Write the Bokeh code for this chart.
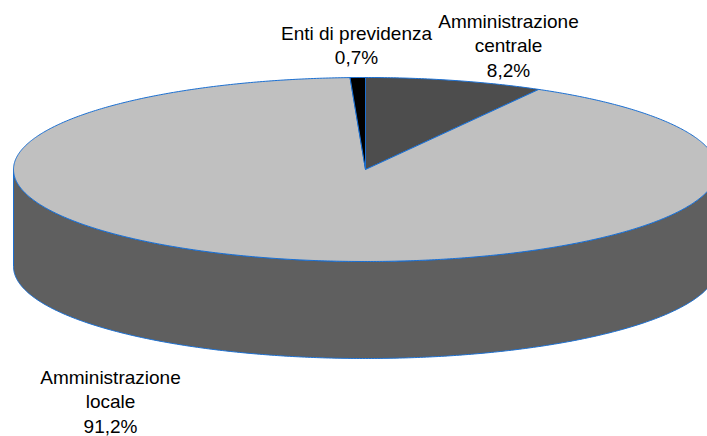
import math
from bokeh.plotting import figure
from bokeh.models import Range1d
from bokeh.core.properties import value
from bokeh.embed import file_html
from bokeh.resources import INLINE

# Chart data
categories = ["Amministrazione centrale", "Amministrazione locale", "Enti di previdenza"]
shares = [8.2, 91.2, 0.7]
top_colors = ["#4d4d4d", "#c0c0c0", "#000000"]
side_color = "#5f5f5f"
outline = "#1b6fd1"

label_lines = [["Amministrazione", "centrale", "8,2%"],
               ["Amministrazione", "locale", "91,2%"],
               ["Enti di previdenza", "0,7%"]]
label_centres = [(508, 45), (110, 401), (356, 45)]

# Pie geometry (page pixels)
CX, CY, RX, RY, DEPTH = 365, 169, 352, 92, 97
W, H = 707, 436

p = figure(width=W, height=H, output_backend="svg", toolbar_location=None,
           x_range=Range1d(0, W), y_range=Range1d(H, 0),
           min_border=0, outline_line_color=None)
p.axis.visible = False
p.grid.visible = False
p.background_fill_color = "white"
p.border_fill_color = "white"


def rim(a0, a1, dy=0.0):
    """Points on the ellipse, angle clockwise from 12 o'clock in degrees."""
    n = max(2, int(abs(a1 - a0) * 2))
    xs, ys = [], []
    for i in range(n + 1):
        a = math.radians(a0 + (a1 - a0) * i / n)
        xs.append(CX + RX * math.sin(a))
        ys.append(CY - RY * math.cos(a) + dy)
    return xs, ys


# Extruded side: visible lower half
xt, yt = rim(90, 270)
xb, yb = rim(270, 90, DEPTH)
p.patch(xt + xb, yt + yb, fill_color=side_color, line_color=outline, line_width=1)

# Top slices, running clockwise from 12 o'clock
total = sum(shares)
start = 0.0
for share, col in zip(shares, top_colors):
    end = start + 360.0 * share / total
    xs, ys = rim(start, end)
    p.patch([CX] + xs, [CY] + ys, fill_color=col, line_color=outline, line_width=1)
    start = end

# Labels
LEAD = 24.5
for lines, (cx, cy) in zip(label_lines, label_centres):
    n = len(lines)
    ys = [cy + (i - (n - 1) / 2) * LEAD for i in range(n)]
    p.text([cx] * n, ys, text=lines, text_align="center", text_baseline="middle",
           text_font=value("Liberation Sans"), text_font_size="19px", text_color="#000000")

open("out.html", "w").write(file_html(p, INLINE))
